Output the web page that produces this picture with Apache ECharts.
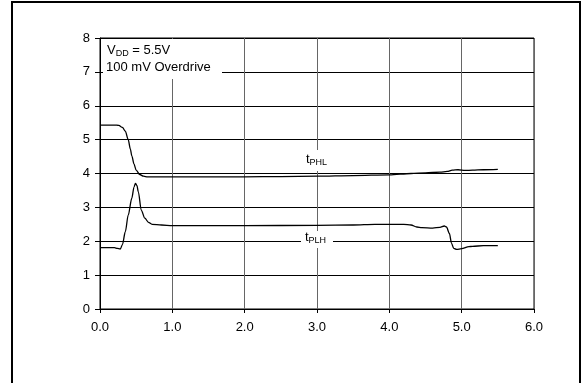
<!DOCTYPE html>
<html>
<head>
<meta charset="utf-8">
<script src="https://cdn.jsdelivr.net/npm/echarts@6/dist/echarts.min.js"></script>
<style>
  html, body { margin: 0; padding: 0; background: #fff; }
  #chart { width: 586px; height: 383px; }
</style>
</head>
<body>
<div id="chart"></div>
<script>
// delay curves, values
var tPHL = [
  [0, 5.43], [0.1, 5.43], [0.2, 5.43], [0.26, 5.42], [0.31, 5.36], [0.35, 5.25],
  [0.39, 5.0], [0.42, 4.72], [0.44, 4.52], [0.47, 4.28], [0.5, 4.1], [0.55, 3.97],
  [0.6, 3.92], [0.66, 3.9], [0.8, 3.9], [1.0, 3.9], [1.5, 3.9], [2.0, 3.9],
  [2.5, 3.91], [3.0, 3.92], [3.5, 3.94], [4.0, 3.96], [4.3, 4.0], [4.5, 4.02],
  [4.7, 4.04], [4.8, 4.06], [4.87, 4.1], [4.95, 4.11], [5.05, 4.09], [5.15, 4.1],
  [5.3, 4.11], [5.5, 4.12]
];
var tPLH = [
  [0, 1.81], [0.1, 1.81], [0.2, 1.81], [0.24, 1.79], [0.28, 1.77], [0.31, 1.9],
  [0.35, 2.28], [0.39, 2.77], [0.44, 3.27], [0.47, 3.6], [0.49, 3.71], [0.51, 3.65],
  [0.53, 3.46], [0.57, 2.92], [0.62, 2.68], [0.67, 2.56], [0.72, 2.5], [0.85, 2.48],
  [1.0, 2.46], [2.0, 2.46], [3.0, 2.47], [3.5, 2.48], [3.8, 2.5], [4.2, 2.5],
  [4.3, 2.48], [4.38, 2.42], [4.45, 2.4], [4.6, 2.39], [4.7, 2.41], [4.76, 2.45],
  [4.79, 2.42], [4.83, 2.23], [4.86, 1.94], [4.89, 1.79], [4.93, 1.76], [5.0, 1.78],
  [5.1, 1.84], [5.15, 1.85], [5.3, 1.87], [5.5, 1.87]
];

var FONT = '"Liberation Sans", Arial, sans-serif';
var rich = {
  n: { fontSize: 13, fontFamily: FONT, color: '#000', lineHeight: 16 },
  s: { fontSize: 9, fontFamily: FONT, color: '#000', lineHeight: 16, verticalAlign: 'bottom', padding: [5, 0, 0, 0] }
};

var myChart = echarts.init(document.getElementById('chart'));

var option = {
  animation: false,
  backgroundColor: '#fff',
  grid: {
    left: 100, top: 38, width: 434, height: 271,
    show: true, borderColor: '#000', borderWidth: 1
  },
  xAxis: {
    type: 'value', min: 0, max: 6, interval: 1,
    axisLine: { show: true, onZero: false, lineStyle: { color: '#000', width: 1 } },
    axisTick: { show: true, length: 4, lineStyle: { color: '#000' } },
    axisLabel: {
      margin: 12, color: '#000', fontSize: 13, fontFamily: FONT,
      formatter: function (v) { return v.toFixed(1); }
    },
    splitLine: { show: true, lineStyle: { color: '#666', width: 1 } }
  },
  yAxis: {
    type: 'value', min: 0, max: 8, interval: 1,
    axisLine: { show: true, lineStyle: { color: '#000', width: 1 } },
    axisTick: { show: true, length: 5, lineStyle: { color: '#000' } },
    axisLabel: { margin: 10, color: '#000', fontSize: 13, fontFamily: FONT },
    splitLine: { show: true, lineStyle: { color: '#000', width: 1 } }
  },
  series: [
    {
      name: 'tPHL', type: 'line', data: tPHL, showSymbol: false,
      smooth: 0.3, smoothMonotone: 'x',
      lineStyle: { color: '#000', width: 1.3 }
    },
    {
      name: 'tPLH', type: 'line', data: tPLH, showSymbol: false,
      smooth: 0.3, smoothMonotone: 'x',
      lineStyle: { color: '#000', width: 1.3 }
    }
  ],
  graphic: [
    {
      type: 'rect', z: 100,
      shape: { x: 12, y: 2, width: 568, height: 420 },
      style: { fill: null, stroke: '#000', lineWidth: 2 }
    },
    {
      type: 'rect', z: 100,
      shape: { x: 103, y: 39, width: 119, height: 40 },
      style: { fill: '#fff' }
    },
    {
      type: 'text', z: 101, left: 107, top: 44,
      style: { text: '{n|V}{s|DD}{n| = 5.5V}', rich: rich }
    },
    {
      type: 'text', z: 101, left: 106, top: 61,
      style: { text: '{n|100 mV Overdrive}', rich: rich }
    },
    {
      type: 'rect', z: 100,
      shape: { x: 304, y: 150, width: 27, height: 21 },
      style: { fill: '#fff' }
    },
    {
      type: 'text', z: 101, left: 306, top: 153,
      style: { text: '{n|t}{s|PHL}', rich: rich }
    },
    {
      type: 'rect', z: 100,
      shape: { x: 301, y: 231, width: 32, height: 17 },
      style: { fill: '#fff' }
    },
    {
      type: 'text', z: 101, left: 305, top: 231,
      style: { text: '{n|t}{s|PLH}', rich: rich }
    }
  ]
};

option && myChart.setOption(option);
</script>
</body>
</html>
